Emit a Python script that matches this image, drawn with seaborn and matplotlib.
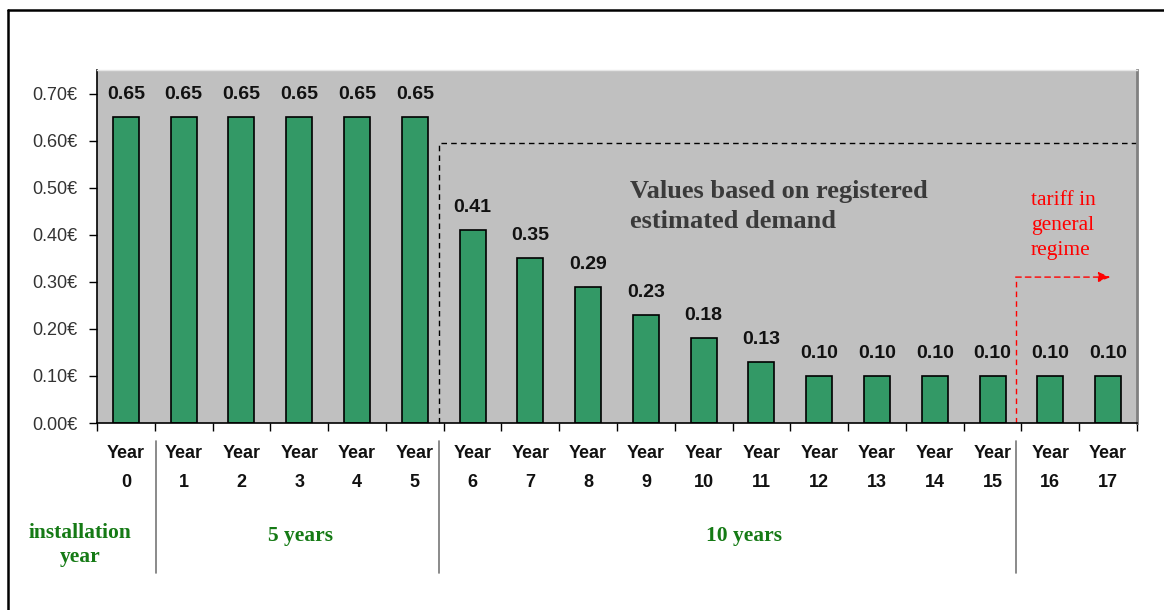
import matplotlib
matplotlib.use("Agg")
import matplotlib.pyplot as plt
import matplotlib.transforms as mtransforms
from matplotlib.lines import Line2D
import seaborn as sns
import pandas as pd

# ---- data ----
years = [f"Year\n{i}" for i in range(18)]
tariffs = [0.65, 0.65, 0.65, 0.65, 0.65, 0.65, 0.41, 0.35, 0.29, 0.23, 0.18, 0.13,
           0.10, 0.10, 0.10, 0.10, 0.10, 0.10]
value_labels = [f"{v:.2f}" for v in tariffs]
y_ticks = [0.0, 0.1, 0.2, 0.3, 0.4, 0.5, 0.6, 0.7]
y_tick_labels = [f"{v:.2f}€" for v in y_ticks]
period_labels = ["installation\nyear", "5 years", "10 years"]
period_centers = [-0.79, 3.03, 10.7]
boundaries = [0.52, 5.42, 15.40]
demand_level = 0.595
general_level = 0.31

df = pd.DataFrame({"year": years, "tariff": tariffs})

sns.set_theme(style="white")
plt.rcParams["font.family"] = ["Liberation Sans", "DejaVu Sans"]

fig = plt.figure(figsize=(11.64, 6.10), dpi=100)
fig.patch.set_facecolor("white")
ax = fig.add_axes([97 / 1164, 1 - 423 / 610, 1040 / 1164, 353 / 610])
ax.set_facecolor("#C0C0C0")

sns.barplot(data=df, x="year", y="tariff", order=years, color="#339966",
            edgecolor="black", linewidth=1.2, width=0.45, saturation=1, ax=ax)

for c in ax.containers:
    ax.bar_label(c, labels=value_labels, padding=10, fontsize=14,
                 fontweight="bold", color="#111111")

ax.set_xlim(-0.5, 17.5)
ax.set_ylim(0, 0.75)
ax.set_yticks(y_ticks)
ax.set_yticklabels(y_tick_labels, fontsize=13, color="#333333")
ax.set_xlabel("")
ax.set_ylabel("")

ax.set_xticks(range(18))
ax.set_xticklabels(years, fontsize=13, fontweight="bold", color="#111111",
                   linespacing=1.9)
ax.set_xticks([i - 0.5 for i in range(19)], minor=True)
ax.tick_params(axis="x", which="major", length=0, pad=16)
ax.tick_params(axis="x", which="minor", length=6, width=1, direction="out",
               color="black", bottom=True)
ax.tick_params(axis="y", which="major", length=6, width=1, direction="out",
               color="black", left=True, pad=8)

for s in ["left", "bottom"]:
    ax.spines[s].set_color("black")
    ax.spines[s].set_linewidth(1.2)
ax.spines["top"].set_color("#E6E6E6")
ax.spines["top"].set_linewidth(1)
ax.spines["right"].set_color("#808080")
ax.spines["right"].set_linewidth(2)

# black dashed bracket
ax.plot([boundaries[1], boundaries[1], 17.5], [0, demand_level, demand_level],
        ls=(0, (4, 3)), color="black", lw=1, clip_on=False)
ax.text(8.72, 0.46, "Values based on registered\nestimated demand",
        family=["Liberation Serif"], fontweight="bold", fontsize=19,
        color="#3a3a3a", ha="left", va="center", linespacing=1.35)

# red dashed arrow
ax.plot([boundaries[2], boundaries[2]], [0, general_level], ls=(0, (4, 3)),
        color="red", lw=1)
ax.annotate("", xy=(17.04, general_level), xytext=(boundaries[2], general_level),
            arrowprops=dict(arrowstyle="-|>,head_length=0.6,head_width=0.25",
                            color="red", lw=1, ls=(0, (4, 3)),
                            shrinkA=0, shrinkB=0))
ax.text(15.66, 0.42, "tariff in\ngeneral\nregime", family=["Liberation Serif"],
        fontsize=15.5, color="red", ha="left", va="center", linespacing=1.45)

# period separators and labels below axis
trans = mtransforms.blended_transform_factory(ax.transData, ax.transAxes)
for b in boundaries:
    ax.add_line(Line2D([b, b], [-0.05, -0.425], transform=trans,
                       color="#777777", lw=1.2, clip_on=False))
for lbl, cx in zip(period_labels, period_centers):
    ax.text(cx, -0.32 if "\n" not in lbl else -0.345, lbl, transform=trans,
            family=["Liberation Serif"], fontweight="bold", fontsize=15.5,
            color="#157a15", ha="center", va="center", multialignment="center",
            linespacing=1.25)

# outer frame
fig.add_artist(Line2D([8 / 1164, 1.0], [1 - 10 / 610, 1 - 10 / 610],
                      transform=fig.transFigure, color="black", lw=1.8))
fig.add_artist(Line2D([8 / 1164, 8 / 1164], [0, 1 - 10 / 610],
                      transform=fig.transFigure, color="black", lw=1.8))

fig.savefig("out.png", dpi=100)
